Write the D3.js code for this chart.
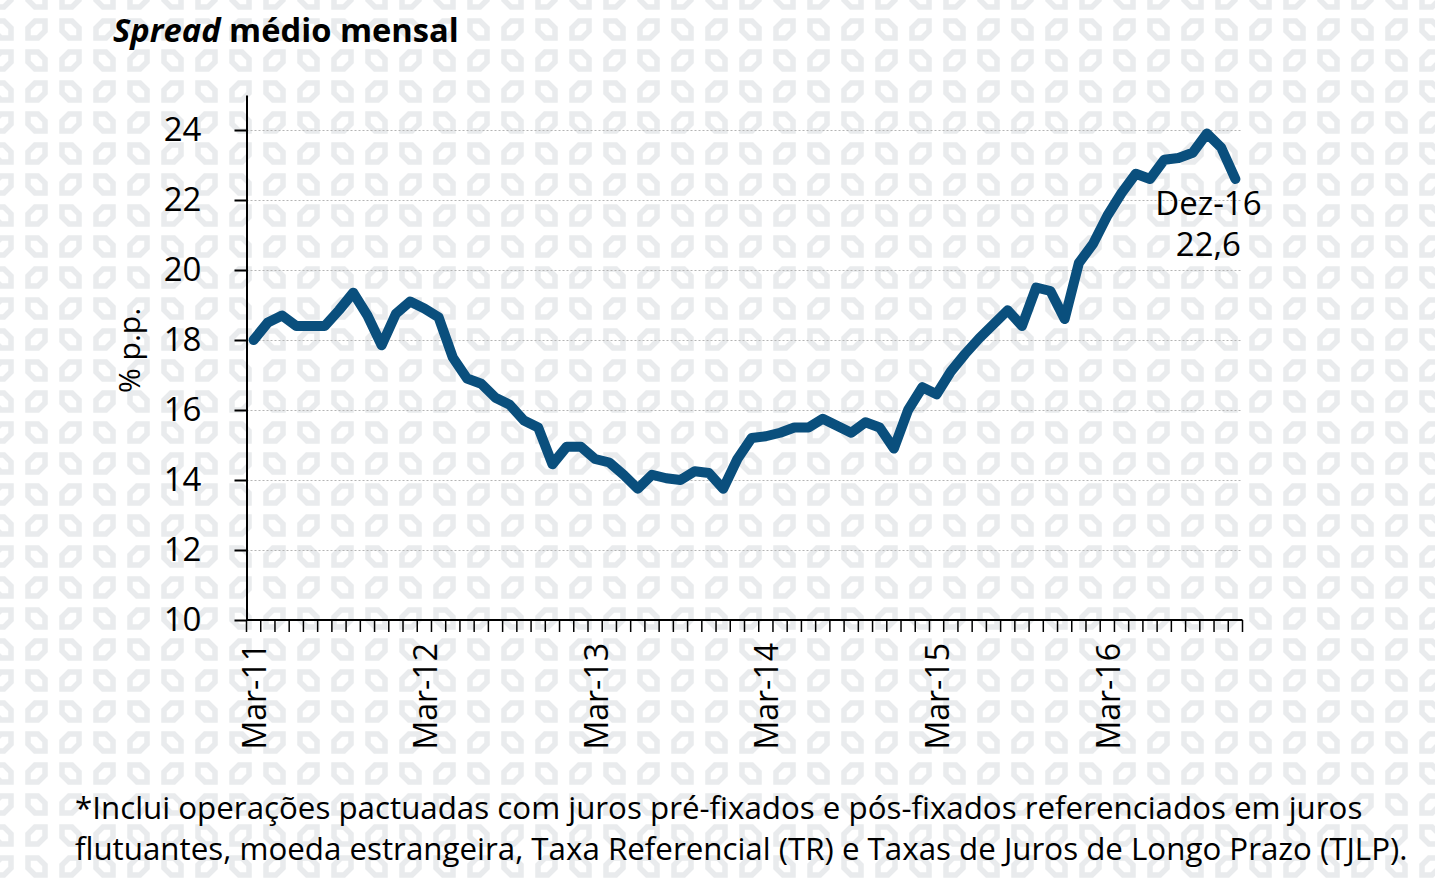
<!DOCTYPE html>
<html>
<head>
<meta charset="utf-8">
<script src="https://cdn.jsdelivr.net/npm/d3@7"></script>
<style>
  html, body { margin: 0; padding: 0; background: #ffffff; }
  svg { display: block; }
  text { font-family: "Open Sans", "DejaVu Sans", sans-serif; fill: #000; }
</style>
</head>
<body>
<svg id="chart" width="1435" height="881"></svg>
<script>
// ---------------- data ----------------
const categories = [
  "Mar-11","Abr-11","Mai-11","Jun-11","Jul-11","Ago-11","Set-11","Out-11","Nov-11","Dez-11",
  "Jan-12","Fev-12","Mar-12","Abr-12","Mai-12","Jun-12","Jul-12","Ago-12","Set-12","Out-12","Nov-12","Dez-12",
  "Jan-13","Fev-13","Mar-13","Abr-13","Mai-13","Jun-13","Jul-13","Ago-13","Set-13","Out-13","Nov-13","Dez-13",
  "Jan-14","Fev-14","Mar-14","Abr-14","Mai-14","Jun-14","Jul-14","Ago-14","Set-14","Out-14","Nov-14","Dez-14",
  "Jan-15","Fev-15","Mar-15","Abr-15","Mai-15","Jun-15","Jul-15","Ago-15","Set-15","Out-15","Nov-15","Dez-15",
  "Jan-16","Fev-16","Mar-16","Abr-16","Mai-16","Jun-16","Jul-16","Ago-16","Set-16","Out-16","Nov-16","Dez-16"
];
const spread = [
  18.0, 18.5, 18.7, 18.4, 18.4, 18.4, 18.85, 19.35, 18.7, 17.85,
  18.75, 19.1, 18.9, 18.65, 17.5, 16.9, 16.75, 16.35, 16.15, 15.7, 15.5, 14.45,
  14.95, 14.95, 14.6, 14.5, 14.15, 13.75, 14.15, 14.05, 14.0, 14.25, 14.2, 13.75,
  14.6, 15.2, 15.25, 15.35, 15.5, 15.5, 15.75, 15.55, 15.35, 15.65, 15.5, 14.9,
  16.0, 16.65, 16.45, 17.1, 17.6, 18.05, 18.45, 18.85, 18.4, 19.5, 19.4, 18.6,
  20.2, 20.75, 21.55, 22.2, 22.75, 22.6, 23.15, 23.2, 23.35, 23.9, 23.5, 22.6
];
const xTickLabels = ["Mar-11","Mar-12","Mar-13","Mar-14","Mar-15","Mar-16"];
const yTicks = [10, 12, 14, 16, 18, 20, 22, 24];
const titleItalic = "Spread";
const titleRest = " médio mensal";
const yAxisTitle = "% p.p.";
const lastLabel = ["Dez-16", "22,6"];
const footnote = [
  "*Inclui operações pactuadas com juros pré-fixados e pós-fixados referenciados em juros",
  "flutuantes, moeda estrangeira, Taxa Referencial (TR) e Taxas de Juros de Longo Prazo (TJLP)."
];

// ---------------- drawing ----------------
const svg = d3.select("#chart");
const lineColor = "#0a4f7d";
const wmColor = "#e9ebed";

// watermark background pattern (checkerboard of two cut-corner shapes)
const defs = svg.append("defs");
const pat = defs.append("pattern")
  .attr("id", "wm")
  .attr("patternUnits", "userSpaceOnUse")
  .attr("x", 25).attr("y", 18)
  .attr("width", 68).attr("height", 62);
const s = 17, c = 7;
const shapeA = `M${c},0 L${s},0 L${s},${s-c} L${s-c},${s} L0,${s} L0,${c} Z`;
const shapeB = `M0,0 L${s-c},0 L${s},${c} L${s},${s} L${c},${s} L0,${s-c} Z`;
[[0, 0, shapeA], [34, 0, shapeB], [0, 31, shapeB], [34, 31, shapeA]].forEach(([dx, dy, d]) => {
  pat.append("path")
    .attr("transform", `translate(${dx + 3},${dy + 3})`)
    .attr("d", d)
    .attr("fill", "none").attr("stroke", wmColor).attr("stroke-width", 5.5)
    .attr("stroke-linejoin", "miter");
});

svg.append("rect").attr("width", 1435).attr("height", 881).attr("fill", "#fff");
svg.append("rect").attr("width", 1435).attr("height", 881).attr("fill", "url(#wm)");

const x = d3.scaleBand().domain(categories).range([246.5, 1242.5]).padding(0);
const y = d3.scaleLinear().domain([10, 25]).range([620, 95]);
const bw = x.bandwidth();
const cx = d => x(d) + bw / 2;

// gridlines
svg.append("g").selectAll("line")
  .data(yTicks.filter(v => v > 10))
  .join("line")
  .attr("x1", x.range()[0]).attr("x2", x.range()[1])
  .attr("y1", d => Math.round(y(d)) + 0.5).attr("y2", d => Math.round(y(d)) + 0.5)
  .attr("stroke", "#b5b5b5").attr("stroke-width", 1).attr("stroke-dasharray", "2,2");

// y axis
const yAxis = svg.append("g")
  .attr("transform", "translate(246.5,0)")
  .call(d3.axisLeft(y).tickValues(yTicks).tickSize(12).tickSizeOuter(0).tickPadding(33));
yAxis.select(".domain").attr("stroke", "#000").attr("stroke-width", 2);
yAxis.selectAll(".tick line").attr("stroke", "#000").attr("stroke-width", 2);
yAxis.selectAll(".tick text").style("font-size", "33px").attr("fill", "#000");

// x axis line + ticks at category boundaries
const xg = svg.append("g");
xg.append("line")
  .attr("x1", x.range()[0]).attr("x2", x.range()[1])
  .attr("y1", y(10)).attr("y2", y(10))
  .attr("stroke", "#000").attr("stroke-width", 2);
xg.selectAll("line.tk")
  .data(categories.concat([null]))
  .join("line").attr("class", "tk")
  .attr("x1", d => d === null ? x.range()[1] : x(d))
  .attr("x2", d => d === null ? x.range()[1] : x(d))
  .attr("y1", y(10)).attr("y2", y(10) + 12)
  .attr("stroke", "#000").attr("stroke-width", 1.5);
xg.selectAll("text")
  .data(xTickLabels)
  .join("text")
  .attr("transform", d => `translate(${cx(d)},${y(10) + 23}) rotate(-90)`)
  .attr("text-anchor", "end")
  .attr("dominant-baseline", "central")
  .style("font-size", "32px")
  .text(d => d);

// y axis title
svg.append("text")
  .attr("transform", `translate(128,${y(17.7)}) rotate(-90)`)
  .attr("text-anchor", "middle")
  .attr("dominant-baseline", "central")
  .style("font-size", "30px")
  .text(yAxisTitle);

// line
const line = d3.line()
  .x((d, i) => cx(categories[i]))
  .y(d => y(d));
svg.append("path")
  .datum(spread)
  .attr("d", line)
  .attr("fill", "none")
  .attr("stroke", lineColor)
  .attr("stroke-width", 10)
  .attr("stroke-linejoin", "round")
  .attr("stroke-linecap", "round");

// last value annotation
const lastCat = categories[categories.length - 1];
const lastVal = spread[spread.length - 1];
const ann = svg.append("g")
  .attr("transform", `translate(${cx(lastCat) - 27},${y(lastVal)})`);
ann.selectAll("text")
  .data(lastLabel)
  .join("text")
  .attr("x", 0)
  .attr("y", (d, i) => 36 + i * 41)
  .attr("text-anchor", "middle")
  .style("font-size", "33px")
  .text(d => d);

// title
const t = svg.append("text")
  .attr("x", 113).attr("y", 42)
  .style("font-size", "32.7px").style("font-weight", "bold");
t.append("tspan").style("font-style", "italic").text(titleItalic);
t.append("tspan").text(titleRest);

// footnote
svg.append("g").selectAll("text")
  .data(footnote)
  .join("text")
  .attr("x", 75)
  .attr("y", (d, i) => 819 + i * 41)
  .style("font-size", "31.3px")
  .text(d => d);
</script>
</body>
</html>
